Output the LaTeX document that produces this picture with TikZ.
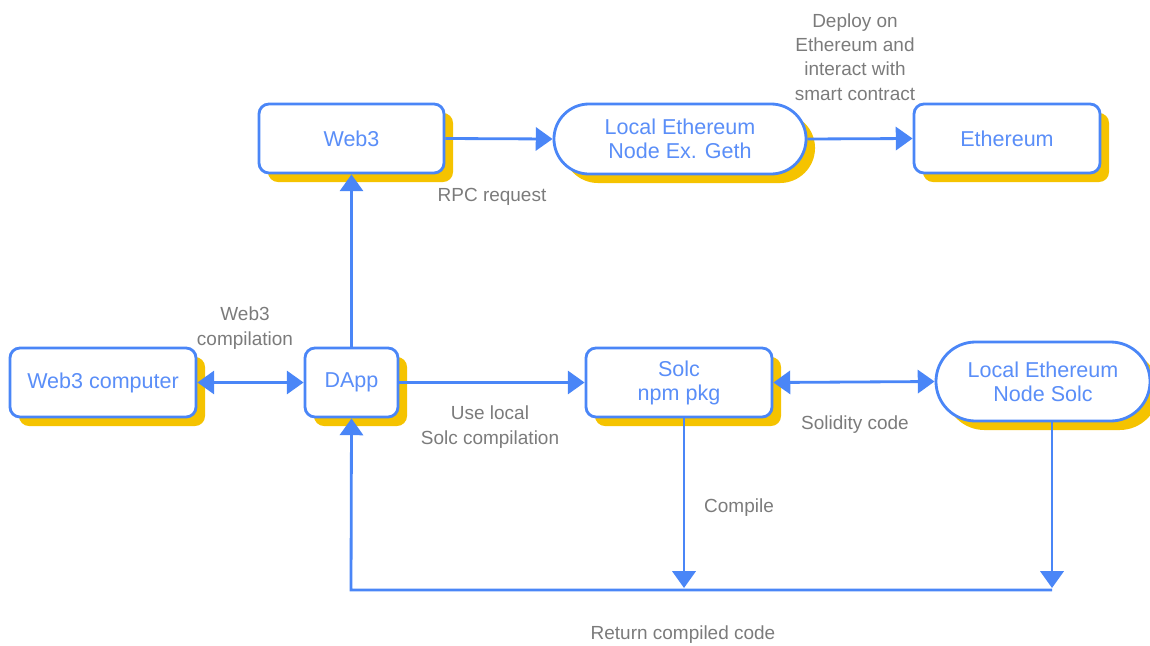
\documentclass[tikz,border=0pt]{standalone}
\usepackage{fontspec}
\setmainfont{Liberation Sans}
\usetikzlibrary{arrows.meta,shapes.misc,shadows}
\definecolor{lineblue}{HTML}{4A86F7}
\definecolor{textblue}{HTML}{5A8EF8}
\definecolor{shadowyellow}{HTML}{F5C300}
\definecolor{labelgray}{HTML}{7B7B7B}
\tikzset{
  box/.style={draw=lineblue, line width=2pt, fill=white, rounded corners=0.25cm,
    text=textblue, font=\fontsize{15.3}{17}\selectfont, align=center, inner sep=0pt,
    drop shadow={shadow xshift=0.225cm, shadow yshift=-0.225cm, fill=shadowyellow, opacity=1}},
  pill/.style={box, rounded corners=0pt, rounded rectangle},
  lbl/.style={text=labelgray, font=\fontsize{13.5}{17.3}\selectfont, align=center, inner sep=0pt},
  flow/.style={draw=lineblue, line width=2pt, -{Triangle[length=0.42cm,width=0.58cm]}},
  twoway/.style={flow, {Triangle[length=0.42cm,width=0.58cm]}-{Triangle[length=0.42cm,width=0.58cm]}}
}
\begin{document}
\begin{tikzpicture}[x=0.025cm, y=-0.025cm]
  \useasboundingbox (0,0) rectangle (1150,645);
  \node[box, minimum width=4.625cm, minimum height=1.725cm] (web3) at (351.5,138.5) {Web3};
  \node[pill, minimum width=6.3cm, minimum height=1.75cm] (geth) at (680,139) {Local Ethereum\\Node Ex. Geth};
  \node[box, minimum width=4.65cm, minimum height=1.725cm] (eth) at (1007,138.5) {Ethereum};
  \node[box, minimum width=4.65cm, minimum height=1.725cm] (comp) at (103,382.5) {Web3 computer};
  \node[box, minimum width=2.325cm, minimum height=1.725cm] (dapp) at (351.5,382.5) {DApp};
  \node[box, minimum width=4.65cm, minimum height=1.725cm] (solc) at (679,382.5) {Solc\\npm pkg};
  \node[pill, minimum width=5.35cm, minimum height=1.975cm] (solcnode) at (1043,381.5) {Local Ethereum\\Node Solc};

  \node[lbl] (rpc) at (492,197) {RPC request};
  \node[lbl] (deploy) at (855,57) {Deploy on\\Ethereum and\\interact with\\smart contract};
  \node[lbl] (w3c) at (245,328) {Web3\\compilation};
  \node[lbl] (uselocal) at (490,427) {Use local\\Solc compilation};
  \node[lbl] (solidity) at (855,425) {Solidity code};
  \node[lbl] (compile) at (739,508) {Compile};
  \node[lbl] (ret) at (683,635) {Return compiled code};

  \coordinate (cmpl) at (684,588);
  \coordinate (rtn) at (1052,588);
  \coordinate (bl) at (351,590);
  \coordinate (br) at (1052,590);

  \begin{scope}
    \draw[flow] (web3.east) -- (geth.west);
    \draw[flow] (geth.east) -- (eth.west);
    \draw[flow] (dapp.north) -- (web3.south);
    \draw[twoway] (comp.east) -- (dapp.west);
    \draw[flow] (dapp.east) -- (solc.west);
    \draw[twoway] (solc.east) -- (solcnode.west);
    \draw[flow] (solc.south -| cmpl) -- (cmpl);
    \draw[flow] (solcnode.south -| rtn) -- (rtn);
    \draw[flow] (br) -- (bl) -- (dapp.south);
  \end{scope}
\end{tikzpicture}
\end{document}
